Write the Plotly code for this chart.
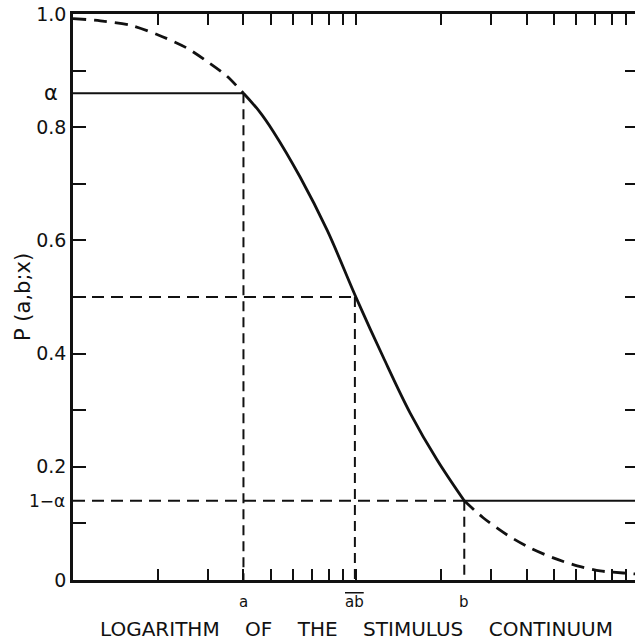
import numpy as np
import plotly.graph_objects as go

# ---- data ----
a_val = 4.0
ab_val = 9.9
b_val = 24.1
alpha = 0.86

upper_x = [1.0, 1.25, 1.6, 2.0, 2.5, 3.0, 3.5, 4.0]
upper_p = [0.992, 0.988, 0.980, 0.963, 0.941, 0.915, 0.890, 0.86]
mid_x = [4.0, 4.55, 5.09, 6.34, 7.90, 10.08, 12.46, 15.52, 19.33, 24.1]
mid_p = [0.86, 0.828, 0.793, 0.712, 0.618, 0.495, 0.394, 0.295, 0.212, 0.14]
lower_x = [24.1, 28.1, 34.2, 41.2, 49.7, 60.4, 72.8, 87.8, 97.0]
lower_p = [0.14, 0.110, 0.0795, 0.0565, 0.039, 0.025, 0.016, 0.0124, 0.0106]

x_tickvals = [2, 3, 4, 5, 6, 7, 8, 9, 10, 20, 30, 40, 50, 60, 70, 80, 90]
y_tickvals = [0, 0.1, 0.2, 0.3, 0.4, 0.5, 0.6, 0.7, 0.8, 0.9, 1.0]
y_ticktext = ["0", "", "0.2", "", "0.4", "", "0.6", "", "0.8", "", "1.0"]
y_right_ticks = [0.1, 0.2, 0.3, 0.4, 0.5, 0.6, 0.7, 0.8, 0.9]

INK = "#111111"
FONT = "DejaVu Sans"
x_lo = 1.0
x_hi = 100.0

fig = go.Figure()

def line(xs, ys, dash="solid", width=2.0):
    fig.add_trace(go.Scatter(x=xs, y=ys, mode="lines",
                             line=dict(color=INK, width=width, dash=dash),
                             hoverinfo="skip", showlegend=False))

# reference lines
line([x_lo, a_val], [alpha, alpha], "solid", 1.8)
line([a_val, a_val], [alpha, 0], "10px,6px", 2.0)
line([x_lo, ab_val], [0.5, 0.5], "12px,7px", 2.0)
line([ab_val, ab_val], [0.5, 0], "10px,6px", 2.0)
line([x_lo, b_val], [1 - alpha, 1 - alpha], "12px,7px", 2.0)
line([b_val, b_val], [1 - alpha, 0], "10px,6px", 2.0)
line([b_val, x_hi], [1 - alpha, 1 - alpha], "solid", 2.2)

# curve
fig.add_trace(go.Scatter(x=upper_x, y=upper_p, mode="lines",
                         line=dict(color=INK, width=2.8, dash="13px,8px", shape="spline", smoothing=0.8),
                         hoverinfo="skip", showlegend=False))
fig.add_trace(go.Scatter(x=mid_x, y=mid_p, mode="lines",
                         line=dict(color=INK, width=2.8, shape="spline", smoothing=1.0),
                         hoverinfo="skip", showlegend=False))
fig.add_trace(go.Scatter(x=lower_x, y=lower_p, mode="lines",
                         line=dict(color=INK, width=2.8, dash="13px,8px", shape="spline", smoothing=0.8),
                         hoverinfo="skip", showlegend=False))
# dummy trace for right tick axis
fig.add_trace(go.Scatter(x=[x_lo], y=[0.5], yaxis="y2", mode="markers",
                         marker=dict(opacity=0), hoverinfo="skip", showlegend=False))

fig.update_layout(
    width=635, height=644,
    margin=dict(l=73, r=0, t=14, b=64),
    paper_bgcolor="white", plot_bgcolor="white",
    font=dict(family=FONT, color=INK),
    hovermode=False,
    xaxis=dict(type="log", range=[0, 1.985], tickvals=x_tickvals,
               showticklabels=False, ticks="inside", ticklen=11, tickwidth=2,
               tickcolor=INK, showline=True, linewidth=2.5, linecolor=INK,
               mirror="ticks", showgrid=False, zeroline=False),
    yaxis=dict(range=[0, 1], tickvals=y_tickvals, ticktext=y_ticktext,
               ticks="inside", ticklen=13, tickwidth=2, tickcolor=INK,
               showline=True, linewidth=2.5, linecolor=INK, mirror=False,
               showgrid=False, zeroline=False,
               tickfont=dict(size=19, family=FONT, color=INK)),
    yaxis2=dict(range=[0, 1], overlaying="y", side="right",
                tickvals=y_right_ticks, showticklabels=False,
                ticks="inside", ticklen=10, tickwidth=2, tickcolor=INK,
                showline=False, showgrid=False, zeroline=False),
)

ann = []
# alpha labels on the left
ann.append(dict(x=0, xref="paper", y=alpha, yref="y", text="α", showarrow=False,
                xanchor="center", xshift=-22, font=dict(size=21, family=FONT, color=INK)))
ann.append(dict(x=0, xref="paper", y=1 - alpha, yref="y", text="1−α", showarrow=False,
                xanchor="center", xshift=-26, font=dict(size=17, family=FONT, color=INK)))
# x labels
for val, txt in [(a_val, "a"), (ab_val, '<span style="text-decoration:overline">ab</span>'), (b_val, "b")]:
    ann.append(dict(x=np.log10(val), xref="x", y=0, yref="paper", text=txt,
                    showarrow=False, yanchor="middle", yshift=-22,
                    font=dict(size=15, family=FONT, color=INK)))
sp = "\u00a0\u00a0\u00a0\u00a0"
ann.append(dict(x=0.5, xref="paper", y=0, yref="paper",
                text=sp.join(["LOGARITHM", "OF", "THE", "STIMULUS", "CONTINUUM"]),
                showarrow=False, yanchor="middle", yshift=-49, xshift=2,
                font=dict(size=20, family=FONT, color=INK)))
ann.append(dict(x=0, xref="paper", y=0.5, yref="paper", text="P (a,b;x)",
                showarrow=False, textangle=-90, xanchor="center", yanchor="middle",
                xshift=-50, font=dict(size=21, family=FONT, color=INK)))
fig.update_layout(annotations=ann)

fig.write_html("out.html", config={"displayModeBar": False},
               post_script="document.body.style.margin='0';document.body.style.overflow='hidden';")
